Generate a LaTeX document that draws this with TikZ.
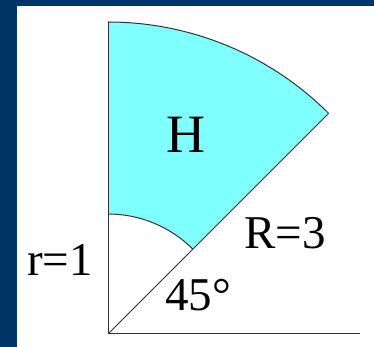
\documentclass[tikz,border=0pt]{standalone}
\usepackage{fontspec}
\setmainfont{Liberation Serif}
\usepackage{tikz}
\usetikzlibrary{calc}
\definecolor{frameblue}{HTML}{003366}
\definecolor{sectorcyan}{HTML}{80FFFF}

\begin{document}
\begin{tikzpicture}[
    x=1pt, y=1pt,
    axis/.style={line width=1pt, draw=black!80},
    lbl/.style={font=\fontsize{47}{50}\selectfont, inner sep=0pt},
  ]
  \useasboundingbox (0,0) rectangle (374,347);
  \fill[frameblue] (0,0) rectangle (374,347);
  \fill[white] (17,0) rectangle (374,341);

  \coordinate (o) at (108,13);
  \coordinate (ytop) at (108,325);
  \coordinate (xend) at (360,13);

  % ring sector between r and R
  \fill[sectorcyan] ($(o)+(90:120)$) arc[start angle=90, end angle=45, radius=120]
    -- ($(o)+(45:312)$) arc[start angle=45, end angle=90, radius=312] -- cycle;
  \draw[axis] ($(o)+(90:120)$) arc[start angle=90, end angle=45, radius=120];
  \draw[axis] (ytop) arc[start angle=90, end angle=45, radius=312];

  \draw[axis] (ytop) -- (o) -- (xend);
  \draw[axis] (o) -- ($(o)+(45:312)$);

  \node[lbl, font=\fontsize{54}{58}\selectfont] (h) at (186,212) {H};
  \node[lbl] (bigr) at (285,114) {R=3};
  \node[lbl] (smallr) at (60,87) {r=1};
  \node[lbl] (ang) at (198,52) {45°};
\end{tikzpicture}
\end{document}
